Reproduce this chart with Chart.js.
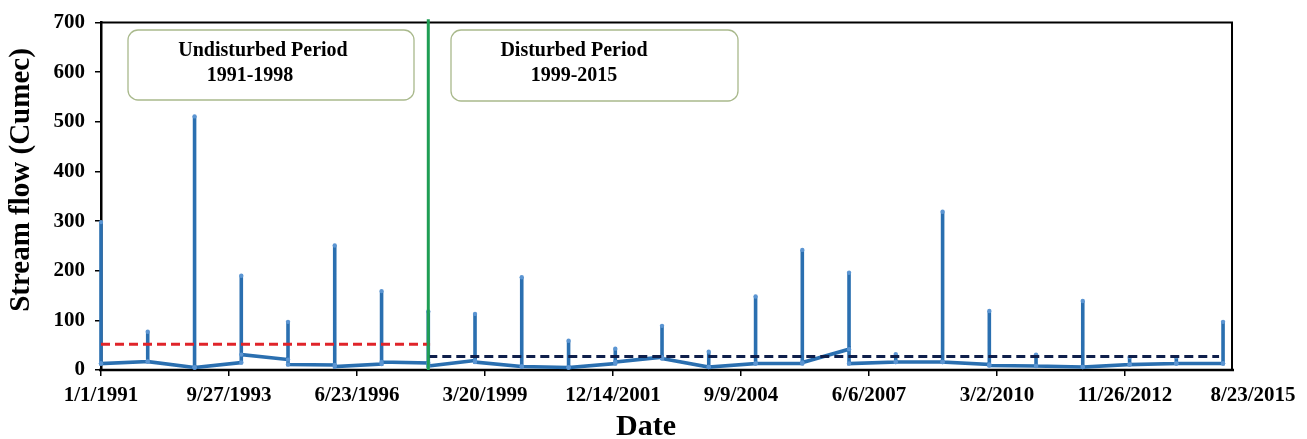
<!DOCTYPE html>
<html>
<head>
<meta charset="utf-8">
<script src="https://cdn.jsdelivr.net/npm/chart.js@4.4.1/dist/chart.umd.min.js"></script>
<style>
  html, body { margin: 0; padding: 0; background: #fff; }
  canvas { display: block; }
</style>
</head>
<body>
<canvas id="flow" width="1307" height="439"></canvas>
<script>
// Annual stream-flow events (cumec): flow just before the event, event peak, flow just after
const years    = [1991, 1992, 1993, 1994, 1995, 1996, 1997, 1998, 1999, 2000, 2001, 2002, 2003,
                  2004, 2005, 2006, 2007, 2008, 2009, 2010, 2011, 2012, 2013, 2014, 2015];
const baseIn   = [13, 17, 5, 15, 21, 10, 12, 14, 19, 7, 5, 13, 26, 6, 13, 13, 42, 16, 16, 11, 8, 6, 11, 13, 13];
const peakFlow = [298, 77, 511, 190, 97, 251, 159, 118, 113, 187, 59, 43, 89, 37, 148, 242, 196, 32, 319, 119, 31, 139, 26, 26, 97];
const baseOut  = [13, 17, 5, 31, 11, 7, 16, 8, 16, 7, 5, 16, 23, 6, 13, 15, 13, 16, 16, 9, 8, 6, 11, 13, 13];

// Period means (cumec) and their spans
const meanUndisturbed = 52;
const undisturbedSpan = ['1991-01-01', '1998-01-15'];
const meanDisturbed   = 27;
const disturbedSpan   = ['1998-01-01', '2014-12-01'];
const boundaryDate    = '1998-01-01';

// Date axis: ticks every 1000 days from 1/1/1991
const tickDays   = [0, 1000, 2000, 3000, 4000, 5000, 6000, 7000, 8000, 9000];
const tickLabels = ['1/1/1991', '9/27/1993', '6/23/1996', '3/20/1999', '12/14/2001',
                    '9/9/2004', '6/6/2007', '3/2/2010', '11/26/2012', '8/23/2015'];
const frameEndDay = 8836;

const ORIGIN = Date.UTC(1991, 0, 1);
const DAY = 86400000;
const dayOf = iso => (Date.parse(iso) - ORIGIN) / DAY;

const flowPoints = [];
years.forEach((yr, i) => {
  const d = (Date.UTC(yr, 0, 1) - ORIGIN) / DAY;
  flowPoints.push({ x: d, y: baseIn[i] }, { x: d, y: peakFlow[i] }, { x: d, y: baseOut[i] });
});

const SERIF = '"Liberation Serif", "Times New Roman", serif';

const frameAndNotes = {
  id: 'frameAndNotes',
  beforeDatasetsDraw(chart) {
    const { ctx, chartArea: a, scales: { x } } = chart;
    const right = x.getPixelForValue(frameEndDay);
    ctx.save();
    // plot frame
    ctx.strokeStyle = '#000';
    ctx.lineWidth = 2;
    ctx.beginPath();
    ctx.moveTo(a.left, a.top); ctx.lineTo(right, a.top); ctx.lineTo(right, a.bottom);
    ctx.stroke();
    ctx.lineWidth = 2.5;
    ctx.beginPath();
    ctx.moveTo(a.left - 2, a.bottom); ctx.lineTo(right + 2, a.bottom);
    ctx.stroke();
    ctx.restore();
  },
  afterDraw(chart) {
    const { ctx } = chart;
    ctx.save();
    // period notes
    const boxes = [
      { l: 128, t: 30, r: 414, b: 100, lines: [['Undisturbed Period', 263], ['1991-1998', 250]] },
      { l: 451, t: 30, r: 738, b: 101, lines: [['Disturbed Period', 574], ['1999-2015', 574]] }
    ];
    boxes.forEach(bx => {
      ctx.strokeStyle = '#a9b98c';
      ctx.lineWidth = 1.3;
      ctx.beginPath();
      ctx.roundRect(bx.l, bx.t, bx.r - bx.l, bx.b - bx.t, 10);
      ctx.stroke();
      ctx.fillStyle = '#000';
      ctx.font = 'bold 20px ' + SERIF;
      ctx.textAlign = 'center';
      ctx.textBaseline = 'middle';
      ctx.fillText(bx.lines[0][0], bx.lines[0][1], 51);
      ctx.fillText(bx.lines[1][0], bx.lines[1][1], 76);
    });

    // axis titles
    ctx.fillStyle = '#000';
    ctx.font = 'bold 29px ' + SERIF;
    ctx.textAlign = 'center';
    ctx.textBaseline = 'middle';
    ctx.save();
    ctx.translate(22, 180);
    ctx.rotate(-Math.PI / 2);
    ctx.fillText('Stream flow (Cumec)', 0, 0);
    ctx.restore();
    ctx.font = 'bold 30px ' + SERIF;
    ctx.fillText('Date', 646, 427);
    ctx.restore();
  }
};

new Chart(document.getElementById('flow'), {
  type: 'line',
  data: {
    datasets: [
      {
        label: 'Boundary',
        data: [{ x: dayOf(boundaryDate), y: 0 }, { x: dayOf(boundaryDate), y: 707 }],
        borderColor: '#1f9e54', borderWidth: 3, pointRadius: 0, clip: false
      },
      {
        label: 'Mean 1999-2015',
        data: disturbedSpan.map(d => ({ x: dayOf(d), y: meanDisturbed })),
        borderColor: '#0f1f4b', borderWidth: 3, borderDash: [9, 5], pointRadius: 0
      },
      {
        label: 'Mean 1991-1998',
        data: undisturbedSpan.map(d => ({ x: dayOf(d), y: meanUndisturbed })),
        borderColor: '#e0242a', borderWidth: 3, borderDash: [9, 5], pointRadius: 0
      },
      {
        label: 'Stream flow',
        data: flowPoints,
        borderColor: '#2a6fb0', borderWidth: 3.6, clip: false,
        pointRadius: 2.2, pointBackgroundColor: '#5b95d2', pointBorderWidth: 0,
        tension: 0
      }
    ]
  },
  options: {
    responsive: false,
    devicePixelRatio: 1,
    animation: false,
    events: [],
    layout: { padding: { top: 18, right: 54, left: 0, bottom: 0 } },
    plugins: { legend: { display: false }, tooltip: { enabled: false } },
    scales: {
      x: {
        type: 'linear', min: 0, max: 9000,
        afterBuildTicks: s => { s.ticks = tickDays.map(v => ({ value: v })); },
        afterFit: s => { s.height = 69; },
        ticks: {
          callback: (v, i) => tickLabels[i],
          autoSkip: false, maxRotation: 0, padding: 7,
          color: '#000', font: { family: SERIF, size: 21, weight: 'bold' }
        },
        grid: {
          drawOnChartArea: false, drawTicks: true, tickLength: 6, lineWidth: 1.5,
          color: c => (c.index === tickDays.length - 1 ? 'rgba(0,0,0,0)' : '#000')
        },
        border: { display: false }
      },
      y: {
        min: 0, max: 700,
        afterFit: s => { s.width = 101; },
        ticks: {
          stepSize: 100, padding: 10,
          color: '#000', font: { family: SERIF, size: 21, weight: 'bold' }
        },
        grid: { drawOnChartArea: false, drawTicks: true, tickLength: 6, lineWidth: 1.5, color: '#000' },
        border: { display: true, color: '#000', width: 2.5 }
      }
    }
  },
  plugins: [frameAndNotes]
});
</script>
</body>
</html>
